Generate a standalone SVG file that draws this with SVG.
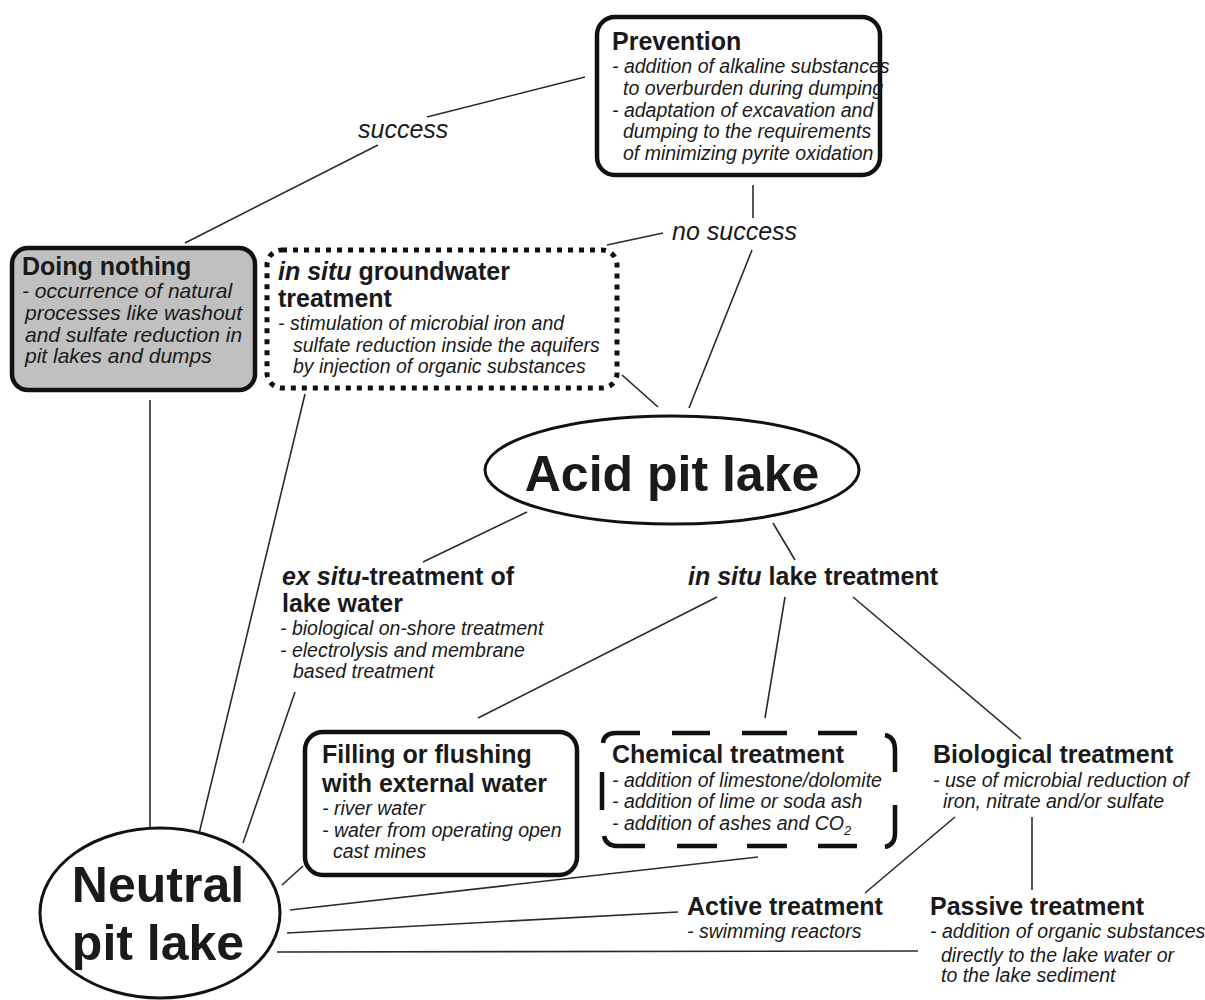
<svg xmlns="http://www.w3.org/2000/svg" width="1205" height="1000" viewBox="0 0 1205 1000">
<style>
text{font-family:"Liberation Sans",Arial,sans-serif;fill:#1a1a1a}
.t{font-size:25px;font-weight:bold}
.bi{font-style:italic}
.b{font-size:19.5px;font-style:italic}
.big{font-size:50px;font-weight:bold}
.lbl{font-size:25px;font-style:italic}
.box{fill:#fff;stroke:#111;stroke-width:4.5}
.ell{fill:#fff;stroke:#111;stroke-width:3}
.con line{stroke:#2a2a2a;stroke-width:1.6}
</style>
<rect width="1205" height="1000" fill="#fff"/>
<g id="connectors" class="con">
<line x1="585" y1="77" x2="427" y2="117"/>
<line x1="378" y1="145" x2="185" y2="243"/>
<line x1="753" y1="185" x2="753" y2="218"/>
<line x1="752" y1="250" x2="689" y2="408"/>
<line x1="663" y1="233" x2="607" y2="245"/>
<line x1="622" y1="375" x2="658" y2="407"/>
<line x1="150" y1="400" x2="150" y2="846"/>
<line x1="305" y1="394" x2="198" y2="838"/>
<line x1="527" y1="512" x2="423" y2="562"/>
<line x1="773" y1="523" x2="795" y2="560"/>
<line x1="295" y1="692" x2="243" y2="843"/>
<line x1="717" y1="597" x2="478" y2="718"/>
<line x1="785" y1="597" x2="765" y2="718"/>
<line x1="853" y1="597" x2="1021" y2="739"/>
<line x1="303" y1="866" x2="282" y2="885"/>
<line x1="758" y1="857" x2="290" y2="910"/>
<line x1="678" y1="912" x2="287" y2="933"/>
<line x1="277" y1="952" x2="918" y2="951"/>
<line x1="955" y1="817" x2="865" y2="893"/>
<line x1="1032" y1="817" x2="1032" y2="890"/>
</g>
<g id="label-success"><text class="lbl" x="358" y="138">success</text></g>
<g id="label-nosuccess"><text class="lbl" x="672" y="240">no success</text></g>
<g id="prevention">
<rect class="box" x="597" y="17" width="283" height="158" rx="18"/>
<text class="t" x="612" y="50">Prevention</text>
<text class="b" font-size="19" x="612" y="73">- addition of alkaline substances</text>
<text class="b" x="623" y="95">to overburden during dumping</text>
<text class="b" x="612" y="117">- adaptation of excavation and</text>
<text class="b" x="623" y="138">dumping to the requirements</text>
<text class="b" x="623" y="160">of minimizing pyrite oxidation</text>
</g>
<g id="doing-nothing">
<rect class="box" x="12" y="248" width="243" height="142" rx="16" fill="#c0c0c0" style="fill:#c0c0c0"/>
<text class="t" x="22" y="275">Doing nothing</text>
<text class="b" style="font-size:21px" x="22" y="298">- occurrence of natural</text>
<text class="b" style="font-size:21px" x="25" y="320">processes like washout</text>
<text class="b" style="font-size:21px" x="25" y="342">and sulfate reduction in</text>
<text class="b" style="font-size:21px" x="25" y="363">pit lakes and dumps</text>
</g>
<g id="groundwater">
<rect x="267" y="250" width="350" height="138" rx="15" fill="none" stroke="#111" stroke-width="5" stroke-dasharray="5 6"/>
<text class="t" x="278" y="280"><tspan class="bi">in situ</tspan> groundwater</text>
<text class="t" x="278" y="307">treatment</text>
<text class="b" x="278" y="330">- stimulation of microbial iron and</text>
<text class="b" x="293" y="352">sulfate reduction inside the aquifers</text>
<text class="b" x="293" y="373">by injection of organic substances</text>
</g>
<g id="acid-pit-lake">
<ellipse class="ell" cx="672" cy="470" rx="187" ry="54"/>
<text class="big" x="672" y="491" text-anchor="middle">Acid pit lake</text>
</g>
<g id="ex-situ">
<text class="t" x="282" y="585"><tspan class="bi">ex situ</tspan>-treatment of</text>
<text class="t" x="282" y="612">lake water</text>
<text class="b" x="280" y="635">- biological on-shore treatment</text>
<text class="b" x="280" y="657">- electrolysis and membrane</text>
<text class="b" x="293" y="678">based treatment</text>
</g>
<g id="in-situ-lake">
<text class="t" x="688" y="585"><tspan class="bi">in situ</tspan> lake treatment</text>
</g>
<g id="filling">
<rect class="box" x="305" y="732" width="272" height="143" rx="18"/>
<text class="t" x="322" y="763">Filling or flushing</text>
<text class="t" x="322" y="792">with external water</text>
<text class="b" x="322" y="815">- river water</text>
<text class="b" x="322" y="837">- water from operating open</text>
<text class="b" x="333" y="858">cast mines</text>
</g>
<g id="chemical">
<path fill="none" stroke="#111" stroke-width="4.5" d="M603 743Q604 733 616 733L640 733M672 733L710 733M742 733L787 733M818 733L857 733M885 735Q895 737 895 750L895 772M895 805L895 833Q895 845 885 847M604 836Q606 846 618 846L645 846M677 846L717 846M747 846L787 846M818 846L857 846M602 772L602 810"/>
<text class="t" x="612" y="763">Chemical treatment</text>
<text class="b" x="612" y="787">- addition of limestone/dolomite</text>
<text class="b" x="612" y="808">- addition of lime or soda ash</text>
<text class="b" x="612" y="830">- addition of ashes and CO<tspan font-size="13" dy="5">2</tspan></text>
</g>
<g id="biological">
<text class="t" x="933" y="763">Biological treatment</text>
<text class="b" x="933" y="787">- use of microbial reduction of</text>
<text class="b" x="943" y="808">iron, nitrate and/or sulfate</text>
</g>
<g id="active">
<text class="t" x="687" y="915">Active treatment</text>
<text class="b" x="687" y="938">- swimming reactors</text>
</g>
<g id="passive">
<text class="t" x="930" y="915">Passive treatment</text>
<text class="b" x="930" y="938">- addition of organic substances</text>
<text class="b" x="941" y="962">directly to the lake water or</text>
<text class="b" x="941" y="982">to the lake sediment</text>
</g>
<g id="neutral-pit-lake">
<ellipse class="ell" cx="160" cy="913" rx="120" ry="85"/>
<text class="big" x="158" y="902" text-anchor="middle">Neutral</text>
<text class="big" x="158" y="960" text-anchor="middle">pit lake</text>
</g>
</svg>
